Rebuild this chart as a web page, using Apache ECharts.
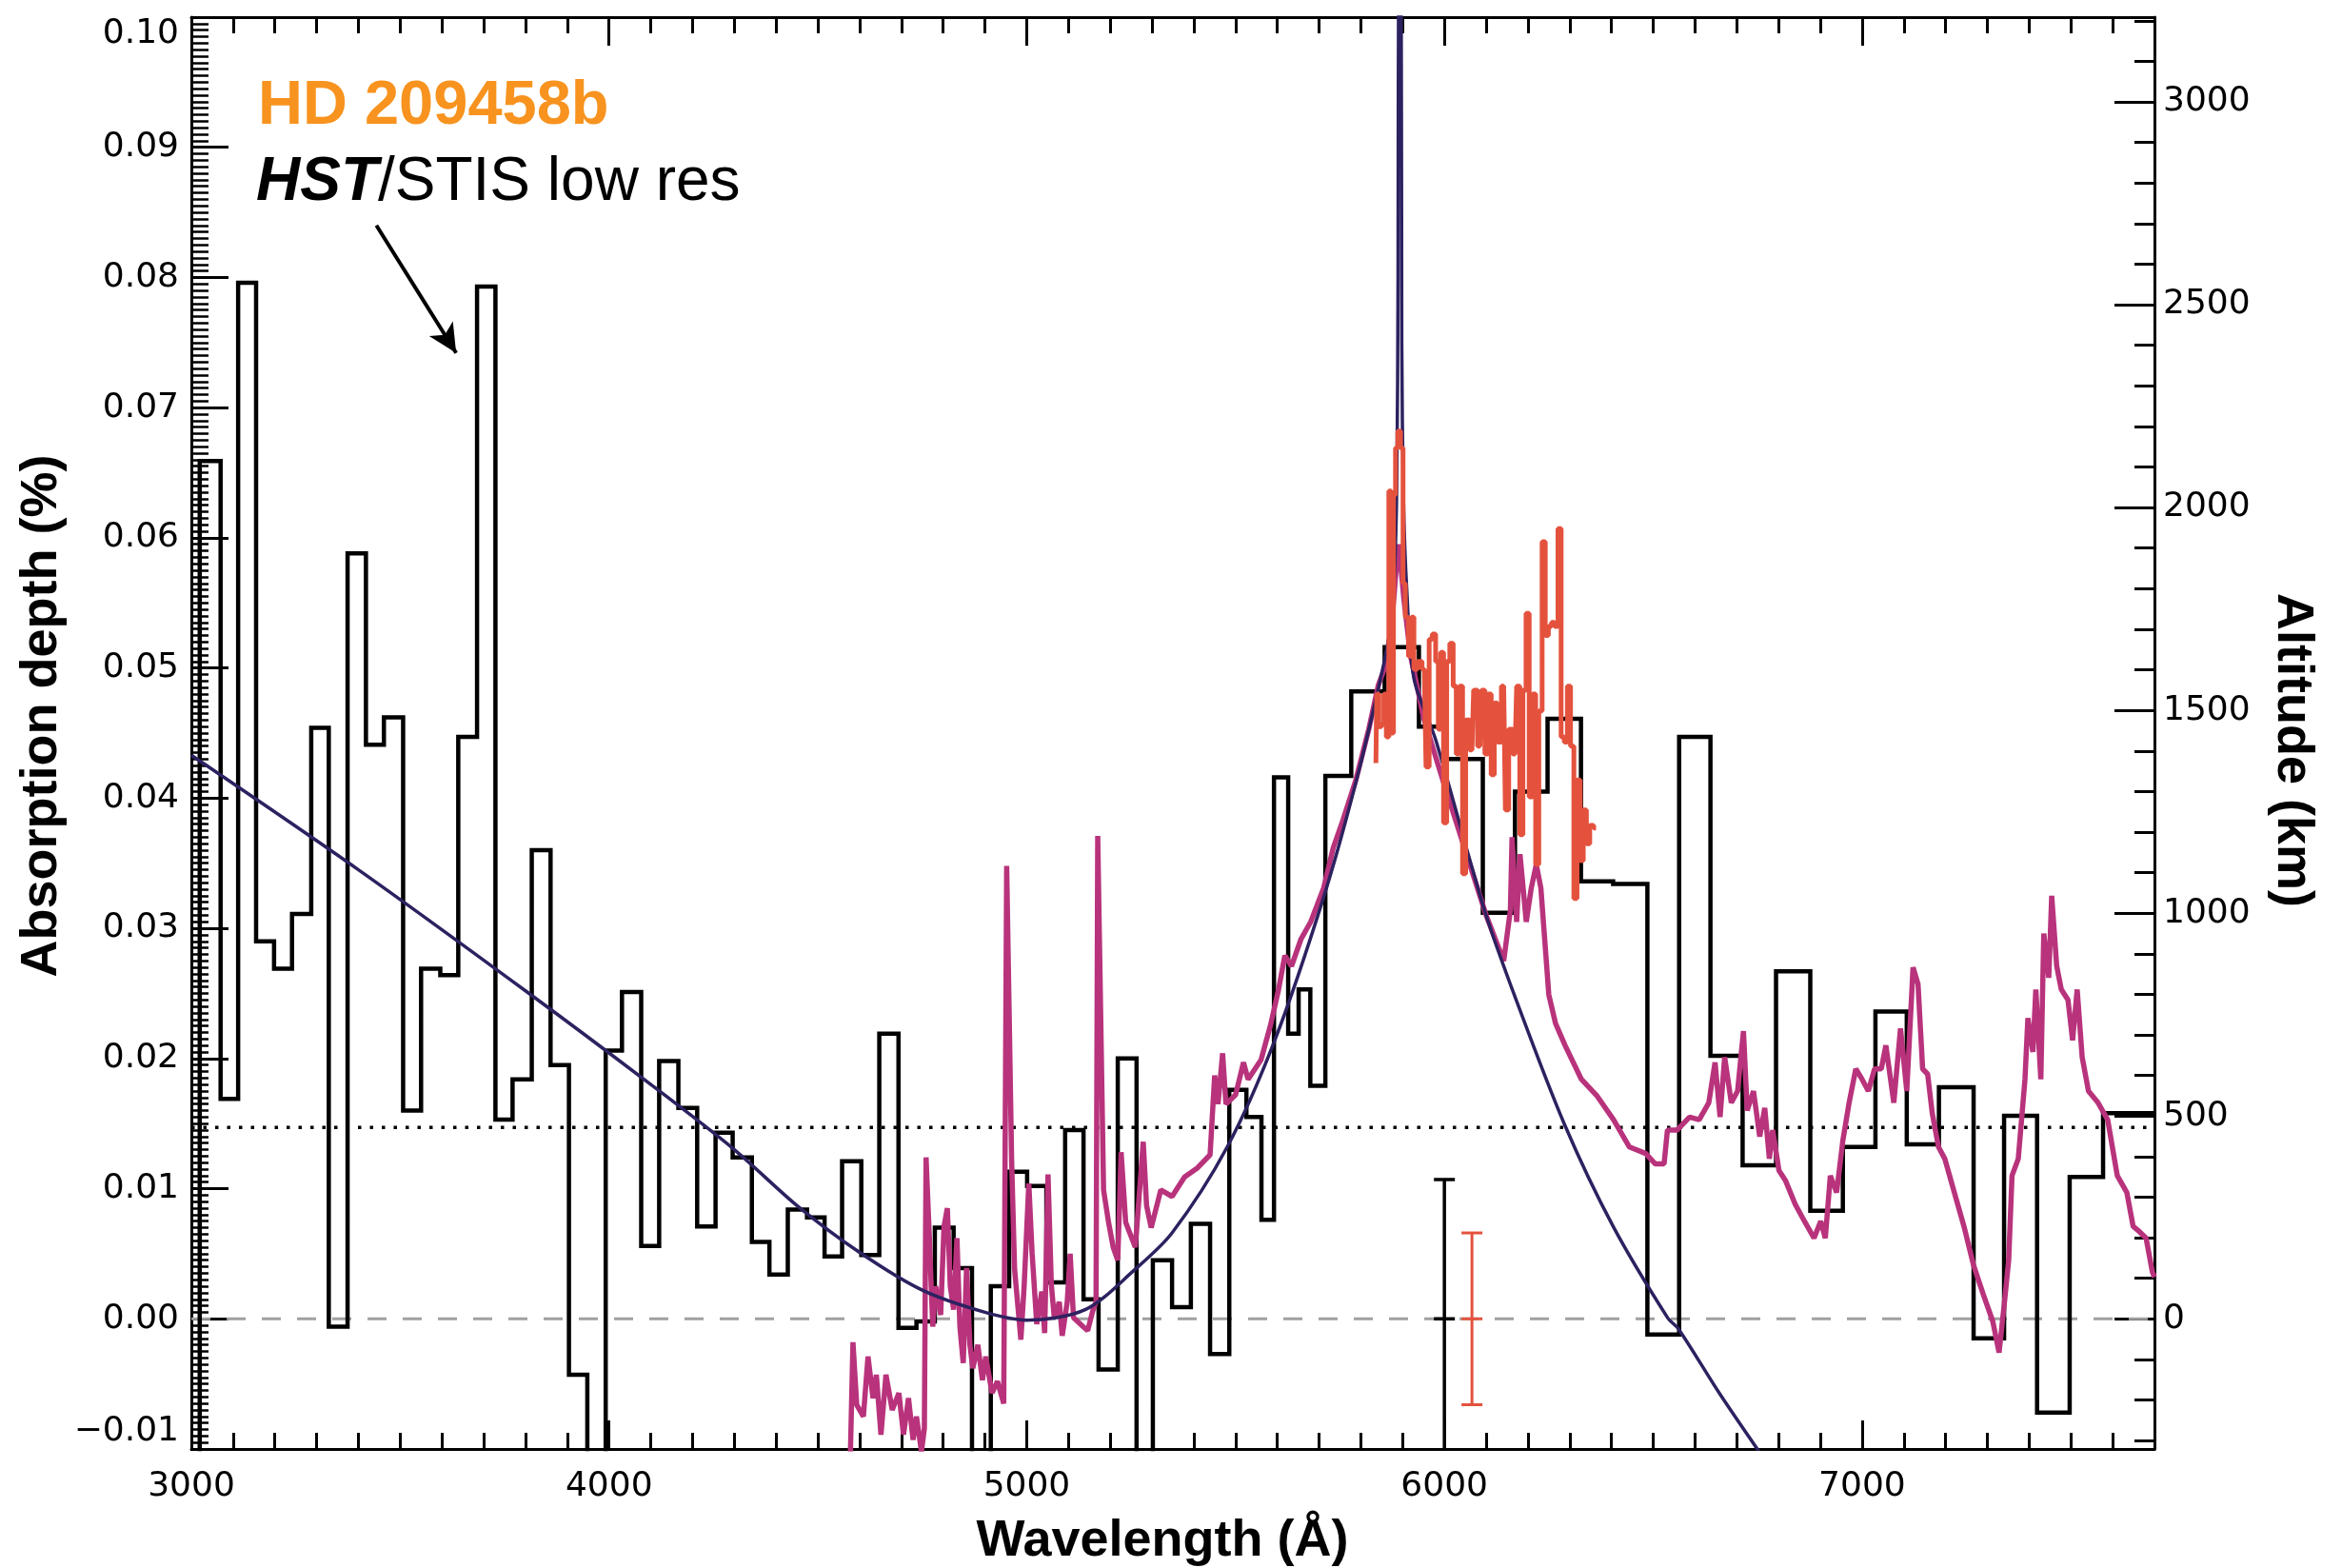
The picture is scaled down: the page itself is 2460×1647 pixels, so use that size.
<!DOCTYPE html>
<html>
<head>
<meta charset="utf-8">
<script src="https://cdn.jsdelivr.net/npm/echarts@6/dist/echarts.min.js"></script>
<style>
html, body { margin: 0; padding: 0; background: #fff; }
#chart { width: 2460px; height: 1647px; }
</style>
</head>
<body>
<div id="chart"></div>
<script>
// HST/STIS low-res transmission spectrum (bin edges in Å, depth in %)
const stisEdges = [3020, 3070, 3112, 3155, 3198, 3241, 3287, 3329, 3374, 3418, 3461, 3507, 3550, 3596, 3639,
  3684, 3728, 3769, 3815, 3860, 3904, 3948, 3992, 4031, 4077, 4120, 4166, 4211, 4255, 4296, 4342, 4384, 4428,
  4474, 4516, 4558, 4604, 4647, 4693, 4736, 4780, 4825, 4869, 4914, 4958, 5001, 5047, 5092, 5136, 5172, 5218,
  5263, 5302, 5348, 5393, 5439, 5485, 5526, 5562, 5592, 5626, 5651, 5679, 5715, 5777, 5857, 5939, 6000, 6092,
  6169, 6247, 6327, 6404, 6486, 6562, 6637, 6714, 6794, 6876, 6954, 7032, 7107, 7184, 7267, 7340, 7419, 7497,
  7577, 7700];
const stisDepth = [0.0659, 0.0169, 0.0796, 0.0290, 0.0269, 0.0311, 0.0454, -0.0006, 0.0588, 0.0441, 0.0462,
  0.0160, 0.0269, 0.0264, 0.0447, 0.0793, 0.0153, 0.0184, 0.0360, 0.0195, -0.0043, -0.0200, 0.0206, 0.0251,
  0.0056, 0.0198, 0.0162, 0.0071, 0.0143, 0.0124, 0.0059, 0.0034, 0.0084, 0.0078, 0.0048, 0.0121, 0.0049,
  0.0219, -0.0007, -0.0002, 0.0070, 0.0039, -0.0200, 0.0025, 0.0113, 0.0102, 0.0028, 0.0145, 0.0015, -0.0039,
  0.0200, -0.0200, 0.0045, 0.0009, 0.0073, -0.0027, 0.0176, 0.0155, 0.0076, 0.0416, 0.0219, 0.0253, 0.0179,
  0.0417, 0.0482, 0.0516, 0.0455, 0.0430, 0.0312, 0.0405, 0.0461, 0.0336, 0.0334, -0.0012, 0.0447, 0.0202,
  0.0118, 0.0267, 0.0083, 0.0132, 0.0236, 0.0134, 0.0178, -0.0015, 0.0156, -0.0072, 0.0109, 0.0158];

// smooth model (Rayleigh + Na)
const navyWave = [3000, 3400, 3800, 4100, 4300, 4450, 4600, 4750, 4900, 5000, 5140, 5256, 5348, 5480, 5594,
  5710, 5788, 5850, 5870, 5880, 5886, 5889, 5891, 5896, 5898, 5902, 5910, 5927, 5980, 6096, 6173, 6288, 6404,
  6534, 6561, 6660, 6762];
const navyDepth = [0.0433, 0.0345, 0.0252, 0.0180, 0.0130, 0.0087, 0.0051, 0.0022, 0.0005, -0.0001, 0.0007,
  0.0037, 0.0066, 0.0132, 0.0214, 0.0323, 0.0412, 0.0496, 0.0530, 0.0570, 0.0640, 0.0800, 0.1100, 0.1100,
  0.0750, 0.0630, 0.0560, 0.0492, 0.0444, 0.0314, 0.0244, 0.0149, 0.0071, 0.0001, -0.0008, -0.0058, -0.0106];

// high-resolution model spectrum
const modelWave = [4578, 4584, 4593, 4609, 4620, 4632, 4640, 4651, 4663, 4678, 4694, 4705, 4717, 4728, 4736,
  4748, 4755, 4759, 4767, 4775, 4782, 4794, 4802, 4810, 4817, 4825, 4833, 4840, 4848, 4856, 4864, 4871, 4883,
  4894, 4902, 4917, 4930, 4945, 4952, 4964, 4971, 4986, 4994, 5005, 5013, 5024, 5036, 5043, 5051, 5059, 5066,
  5078, 5085, 5097, 5104, 5112, 5135, 5146, 5158, 5166, 5170, 5184, 5196, 5207, 5218, 5226, 5237, 5260, 5279,
  5287, 5298, 5321, 5348, 5378, 5409, 5439, 5450, 5458, 5469, 5477, 5500, 5519, 5530, 5561, 5584, 5603, 5618,
  5634, 5657, 5680, 5711, 5734, 5757, 5788, 5819, 5842, 5857, 5873, 5884, 5891, 5903, 5919, 5934, 5950, 6000,
  6050, 6100, 6142, 6158, 6162, 6173, 6181, 6196, 6208, 6220, 6231, 6250, 6266, 6289, 6328, 6366, 6405, 6443,
  6482, 6505, 6526, 6534, 6557, 6587, 6610, 6633, 6648, 6660, 6671, 6687, 6702, 6716, 6725, 6740, 6755, 6767,
  6778, 6786, 6801, 6817, 6840, 6862, 6885, 6901, 6912, 6924, 6939, 6954, 6969, 6985, 7000, 7015, 7030, 7046,
  7057, 7076, 7092, 7107, 7122, 7134, 7145, 7157, 7168, 7183, 7198, 7221, 7244, 7267, 7290, 7313, 7328, 7340,
  7351, 7359, 7374, 7390, 7397, 7409, 7416, 7428, 7435, 7447, 7454, 7466, 7477, 7493, 7504, 7515, 7527, 7542,
  7565, 7588, 7611, 7634, 7649, 7664, 7680, 7695, 7700];
const modelDepth = [-0.0102, -0.0018, -0.0066, -0.0075, -0.0029, -0.0061, -0.0043, -0.0089, -0.0043, -0.0070,
  -0.0057, -0.0089, -0.0061, -0.0093, -0.0075, -0.0102, -0.0084, 0.0124, 0.0062, -0.0006, 0.0025, 0.0003,
  0.0071, 0.0085, 0.0025, 0.0007, 0.0062, -0.0006, -0.0034, 0.0039, -0.0020, -0.0038, -0.0020, -0.0047,
  -0.0029, -0.0057, -0.0048, -0.0065, 0.0348, 0.0120, 0.0038, -0.0016, 0.0026, 0.0104, 0.0050, -0.0004,
  0.0021, -0.0011, 0.0111, 0.0026, 0.0001, 0.0013, -0.0013, 0.0013, 0.0050, 0.0001, -0.0006, -0.0009, 0.0006,
  0.0013, 0.0371, 0.0099, 0.0074, 0.0055, 0.0045, 0.0128, 0.0074, 0.0055, 0.0136, 0.0087, 0.0070, 0.0099,
  0.0094, 0.0109, 0.0116, 0.0126, 0.0187, 0.0165, 0.0204, 0.0165, 0.0172, 0.0197, 0.0184, 0.0199, 0.0226,
  0.0253, 0.0279, 0.0271, 0.0292, 0.0305, 0.0331, 0.0362, 0.0383, 0.0414, 0.0453, 0.0487, 0.0500, 0.0530,
  0.0574, 0.0595, 0.0553, 0.0509, 0.0487, 0.0462, 0.0410, 0.0360, 0.0310, 0.0275, 0.0314, 0.0370, 0.0305,
  0.0357, 0.0305, 0.0331, 0.0349, 0.0331, 0.0249, 0.0227, 0.0210, 0.0184, 0.0171, 0.0153, 0.0132, 0.0127,
  0.0119, 0.0119, 0.0145, 0.0145, 0.0155, 0.0153, 0.0166, 0.0197, 0.0155, 0.0201, 0.0166, 0.0175, 0.0221,
  0.0160, 0.0175, 0.0140, 0.0162, 0.0123, 0.0145, 0.0114, 0.0106, 0.0088, 0.0075, 0.0062, 0.0075, 0.0062,
  0.0110, 0.0097, 0.0137, 0.0166, 0.0192, 0.0184, 0.0175, 0.0192, 0.0192, 0.0210, 0.0166, 0.0223, 0.0175,
  0.0270, 0.0257, 0.0192, 0.0188, 0.0158, 0.0132, 0.0123, 0.0097, 0.0071, 0.0041, 0.0019, -0.0002, -0.0026,
  0.0010, 0.0045, 0.0110, 0.0123, 0.0184, 0.0231, 0.0205, 0.0253, 0.0184, 0.0296, 0.0262, 0.0325, 0.0271,
  0.0253, 0.0245, 0.0214, 0.0253, 0.0201, 0.0175, 0.0166, 0.0153, 0.0110, 0.0097, 0.0071, 0.0067, 0.0062,
  0.0036, 0.0032];

// high-resolution data around the Na doublet
const hiresWave = [5836, 5840, 5846, 5853, 5857, 5865, 5869, 5876, 5880, 5886, 5891, 5899, 5903, 5910, 5918,
  5924, 5930, 5941, 5952, 5960, 5967, 5975, 5983, 5988, 5994, 6002, 6009, 6017, 6025, 6032, 6040, 6047, 6055,
  6066, 6074, 6085, 6093, 6101, 6108, 6116, 6123, 6131, 6142, 6150, 6158, 6169, 6177, 6184, 6192, 6199, 6207,
  6215, 6222, 6230, 6238, 6245, 6253, 6260, 6268, 6276, 6283, 6291, 6298, 6306, 6314, 6321, 6329, 6336, 6344,
  6352, 6363];
const hiresDepth = [0.0427, 0.0480, 0.0455, 0.0457, 0.0480, 0.0447, 0.0636, 0.0450, 0.0633, 0.0669, 0.0682,
  0.0669, 0.0565, 0.0539, 0.0509, 0.0539, 0.0499, 0.0505, 0.0499, 0.0424, 0.0522, 0.0526, 0.0505, 0.0453,
  0.0512, 0.0381, 0.0505, 0.0519, 0.0486, 0.0434, 0.0486, 0.0342, 0.0460, 0.0437, 0.0483, 0.0440, 0.0483,
  0.0434, 0.0480, 0.0418, 0.0473, 0.0443, 0.0486, 0.0391, 0.0453, 0.0434, 0.0486, 0.0372, 0.0483, 0.0542,
  0.0401, 0.0480, 0.0349, 0.0467, 0.0597, 0.0525, 0.0532, 0.0535, 0.0532, 0.0607, 0.0447, 0.0443, 0.0486,
  0.0440, 0.0323, 0.0414, 0.0352, 0.0391, 0.0365, 0.0379, 0.0377];

// typical error bars (black: low res, red: high res)
const errWave = [6000, 6066];
const errHalf = [0.0107, 0.0066];

const meanLevel = 0.0147;
const arrowFrom = [3443, 0.0840];
const arrowTo = [3634, 0.0742];

const altTicks = [0, 500, 1000, 1500, 2000, 2500, 3000];
const altMin = -320.9, altMax = 3209;

const altMinor = [];
for (let v = -300; v <= 3200; v += 100) altMinor.push(v);

const stisLine = [[stisEdges[0], -0.02]];
stisDepth.forEach((v, i) => {
    stisLine.push([stisEdges[i], v], [stisEdges[i + 1], v]);
});

const zip = (a, b) => a.map((x, i) => [x, b[i]]);

const black = '#000';
const tickFont = { color: black, fontFamily: 'DejaVu Sans', fontSize: 36 };

function xAxisDef(pos, main) {
    return {
        type: 'value', position: pos, min: 3000, max: 7700, interval: main ? 1000 : 100,
        axisLine: { show: main, onZero: false, lineStyle: { color: black, width: 3 } },
        axisTick: { inside: true, length: main ? 30 : 17, lineStyle: { color: black, width: 3 } },
        axisLabel: (main && pos === 'bottom')
            ? Object.assign({ margin: 22, formatter: v => v <= 7000 ? String(v) : '' }, tickFont)
            : { show: false },
        splitLine: { show: false }
    };
}

const chart = echarts.init(document.getElementById('chart'));

const option = {
    animation: false,
    backgroundColor: '#fff',
    grid: { left: 201, right: 197, top: 18, bottom: 125 },
    xAxis: [xAxisDef('bottom', true), xAxisDef('top', true), xAxisDef('bottom', false), xAxisDef('top', false)],
    yAxis: [
        {
            type: 'value', position: 'left', min: -0.01, max: 0.10, interval: 0.01,
            axisLine: { onZero: false, lineStyle: { color: black, width: 3 } },
            axisTick: { inside: true, length: 39, lineStyle: { color: black, width: 3 } },
            minorTick: { show: true, splitNumber: 20, length: 18, lineStyle: { color: black, width: 2.5 } },
            axisLabel: Object.assign({
                margin: 13,
                verticalAlignMaxLabel: 'top',
                verticalAlignMinLabel: 'bottom',
                formatter: v => {
                    const s = v.toFixed(2);
                    return s.charAt(0) === '-' ? '\u2212' + s.slice(1) : s;
                }
            }, tickFont),
            splitLine: { show: false }
        },
        {
            type: 'value', position: 'right', min: altMin, max: altMax,
            axisLine: { onZero: false, lineStyle: { color: black, width: 3 } },
            axisTick: { inside: true, length: 42, customValues: altTicks, lineStyle: { color: black, width: 3 } },
            axisLabel: Object.assign({ margin: 9, customValues: altTicks, formatter: v => String(Math.round(v)) }, tickFont),
            splitLine: { show: false }
        },
        {
            type: 'value', position: 'right', min: altMin, max: altMax,
            axisLine: { show: false, onZero: false },
            axisTick: { inside: true, length: 21, customValues: altMinor, lineStyle: { color: black, width: 3 } },
            axisLabel: { show: false },
            splitLine: { show: false }
        }
    ],
    graphic: [
        {
            type: 'text', x: 271, y: 112,
            style: { text: 'HD 209458b', fill: '#F7931E', fontSize: 65, fontWeight: 'bold',
                fontFamily: 'Liberation Sans', verticalAlign: 'middle', textVerticalAlign: 'middle' }
        },
        {
            type: 'text', x: 269, y: 192,
            style: {
                text: '{a|HST}{b|/STIS low res}', verticalAlign: 'middle', textVerticalAlign: 'middle',
                rich: {
                    a: { fontSize: 64, fontWeight: 'bold', fontStyle: 'italic', fontFamily: 'Liberation Sans', fill: black },
                    b: { fontSize: 64, fontWeight: 'normal', fontFamily: 'Liberation Sans', fill: black }
                }
            }
        },
        {
            type: 'text', x: 44, y: 752, rotation: Math.PI / 2,
            style: { text: 'Absorption depth (%)', fill: black, fontSize: 54, fontWeight: 'bold',
                fontFamily: 'Liberation Sans', align: 'center', textAlign: 'center',
                verticalAlign: 'middle', textVerticalAlign: 'middle' }
        },
        {
            type: 'text', x: 2408, y: 788, rotation: -Math.PI / 2,
            style: { text: 'Altitude (km)', fill: black, fontSize: 54, fontWeight: 'bold',
                fontFamily: 'Liberation Sans', align: 'center', textAlign: 'center',
                verticalAlign: 'middle', textVerticalAlign: 'middle' }
        },
        {
            type: 'text', x: 1221, y: 1619,
            style: { text: 'Wavelength (\u00c5)', fill: black, fontSize: 54, fontWeight: 'bold',
                fontFamily: 'Liberation Sans', align: 'center', textAlign: 'center',
                verticalAlign: 'middle', textVerticalAlign: 'middle' }
        }
    ],
    series: [
        {
            type: 'line', name: 'zero', showSymbol: false, silent: true, z: 1,
            data: [[3000, 0], [7700, 0]],
            lineStyle: { color: '#a0a0a0', width: 3, type: [20, 17] }
        },
        {
            type: 'line', name: 'mean', showSymbol: false, silent: true, z: 1,
            data: [[3000, meanLevel], [7700, meanLevel]],
            lineStyle: { color: black, width: 3.5, type: [3.5, 9] },
            markLine: {
                silent: true, symbol: ['none', 'arrow'], symbolSize: [22, 30],
                lineStyle: { color: black, width: 4, type: 'solid' },
                label: { show: false },
                data: [[{ coord: arrowFrom }, { coord: arrowTo }]]
            }
        },
        {
            type: 'line', name: 'STIS', showSymbol: false, z: 3,
            data: stisLine,
            lineStyle: { color: black, width: 4.5, join: 'miter' }
        },
        {
            type: 'line', name: 'model', showSymbol: false, z: 4,
            data: zip(modelWave, modelDepth),
            lineStyle: { color: '#B8337C', width: 5.5 }
        },
        {
            type: 'line', name: 'fit', showSymbol: false, z: 5, smooth: 0.3,
            data: zip(navyWave, navyDepth),
            lineStyle: { color: '#2D2160', width: 3.5 }
        },
        {
            type: 'line', name: 'hires', showSymbol: false, z: 6, step: 'middle',
            data: zip(hiresWave, hiresDepth),
            lineStyle: { color: '#E4523E', width: 5 }
        },
        {
            type: 'custom', name: 'errors', z: 7, clip: true,
            data: errWave.map((w, i) => [w, -errHalf[i], errHalf[i], i]),
            renderItem: (params, api) => {
                const x = api.value(0);
                const lo = api.coord([x, api.value(1)]);
                const hi = api.coord([x, api.value(2)]);
                const mid = api.coord([x, 0]);
                const idx = api.value(3);
                const st = { stroke: idx === 0 ? black : '#E4523E', lineWidth: idx === 0 ? 3.5 : 3 };
                const h = 11;
                const seg = (x1, y1, x2, y2) => ({ type: 'line', shape: { x1, y1, x2, y2 }, style: st });
                return {
                    type: 'group',
                    children: [
                        seg(hi[0], hi[1], lo[0], lo[1]),
                        seg(hi[0] - h, hi[1], hi[0] + h, hi[1]),
                        seg(lo[0] - h, lo[1], lo[0] + h, lo[1]),
                        seg(mid[0] - h, mid[1], mid[0] + h, mid[1])
                    ]
                };
            }
        }
    ]
};

chart.setOption(option);
</script>
</body>
</html>
